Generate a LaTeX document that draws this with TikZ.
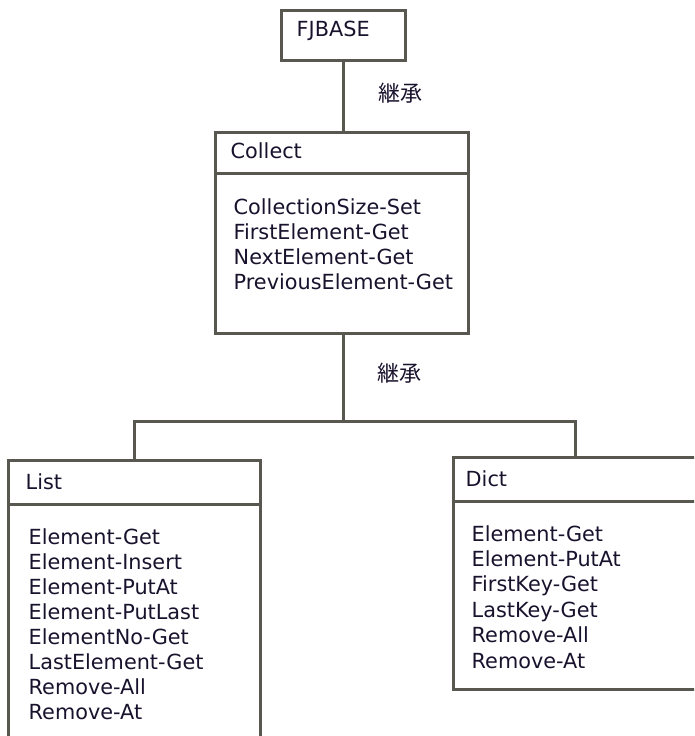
\documentclass[tikz,border=0pt]{standalone}
\usepackage{fontspec}
\setmainfont{DejaVu Sans}
\newfontfamily\cjk{Noto Sans CJK JP}
\definecolor{linegray}{RGB}{88,88,80}
\definecolor{txt}{RGB}{25,18,45}
\begin{document}
\begin{tikzpicture}[x=1pt,y=-1pt,
  box/.style={draw=linegray,line width=3pt,rectangle,inner sep=0pt},
  conn/.style={draw=linegray,line width=3pt},
  divider/.style={draw=linegray,line width=3pt},
  lbl/.style={anchor=base west,inner sep=0pt,text=txt,font=\fontsize{20.8}{25}\selectfont},
  jp/.style={inner sep=0pt,text=txt,font=\fontsize{22}{24}\cjk}]
\useasboundingbox (0,0) rectangle (694,736);
\clip (0,0) rectangle (694,736);
\fill[white] (0,0) rectangle (694,736);
% boxes
\node[box,minimum width=124pt,minimum height=50pt] (fj) at (343,35) {};
\node[box,minimum width=253pt,minimum height=201pt] (col) at (341.5,232.5) {};
\node[box,minimum width=252pt,minimum height=310pt] (lst) at (134,615) {};
\node[box,minimum width=244pt,minimum height=232pt] (dct) at (575,573) {};
% dividers
\draw[divider] (col.west |- 0,173) -- (col.east |- 0,173);
\draw[divider] (lst.west |- 0,504) -- (lst.east |- 0,504);
\draw[divider] (dct.west |- 0,501) -- (dct.east |- 0,501);
% connectors
\coordinate (j) at (343,421);
\draw[conn] (fj.south) -- (fj.south |- col.north);
\draw[conn] (col.south -| j) -- (j);
\draw[conn] (lst.north) |- (j) -| (dct.north);
% labels
\node[jp] (inh1) at (400,93) {継承};
\node[jp] (inh2) at (399,373) {継承};
% titles
\node[lbl] (tfj) at (296.5,36) {FJBASE};
\node[lbl] (tcol) at (230.5,158) {Collect};
\node[lbl] (tlst) at (25.5,489) {List};
\node[lbl] (tdct) at (465.5,486) {Dict};
% methods
\foreach \t [count=\i] in {CollectionSize-Set,FirstElement-Get,NextElement-Get,PreviousElement-Get}
  \node[lbl] (c\i) at (233.5,{214+25*(\i-1)}) {\t};
\foreach \t [count=\i] in {Element-Get,Element-Insert,Element-PutAt,Element-PutLast,ElementNo-Get,LastElement-Get,Remove-All,Remove-At}
  \node[lbl] (l\i) at (28.5,{544+25*(\i-1)}) {\t};
\foreach \t [count=\i] in {Element-Get,Element-PutAt,FirstKey-Get,LastKey-Get,Remove-All,Remove-At}
  \node[lbl] (d\i) at (471.5,{541+25.4*(\i-1)}) {\t};
\end{tikzpicture}
\end{document}
